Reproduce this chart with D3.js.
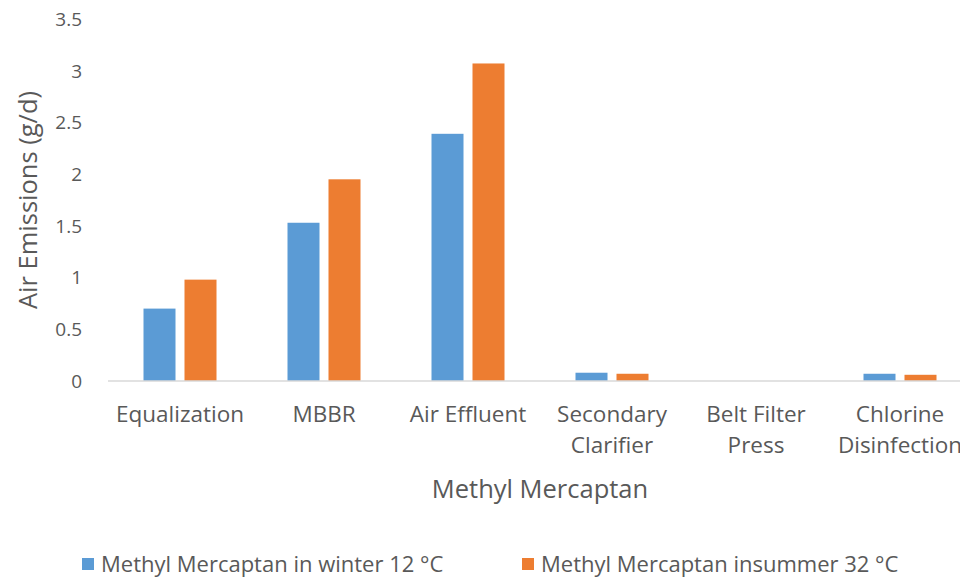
<!DOCTYPE html>
<html>
<head>
<meta charset="utf-8">
<script src="https://cdn.jsdelivr.net/npm/d3@7"></script>
<style>
  body { margin: 0; background: #fff; }
  text { font-family: "Open Sans", sans-serif; fill: #595959; }
</style>
</head>
<body>
<div id="chart"></div>
<script>
var categories = [["Equalization"], ["MBBR"], ["Air Effluent"], ["Secondary", "Clarifier"], ["Belt Filter", "Press"], ["Chlorine", "Disinfection"]];
var seriesNames = ["Methyl Mercaptan in winter 12 °C", "Methyl Mercaptan insummer 32 °C"];
var winter = [0.70, 1.53, 2.39, 0.08, 0, 0.07];
var summer = [0.98, 1.95, 3.07, 0.07, 0, 0.06];
var yTicks = [0, 0.5, 1, 1.5, 2, 2.5, 3, 3.5];
var colors = ["#5b9bd5", "#ed7d31"];

var width = 960, height = 578;
var svg = d3.select("#chart").append("svg")
  .attr("width", width)
  .attr("height", height);

var catKeys = categories.map(function(c) { return c.join(" "); });
var x0 = d3.scaleBand().domain(catKeys).range([108, 972]);
var x1 = d3.scaleBand().domain([0, 1]).range([35.5, 108.5]).paddingInner(9 / 41);
var y = d3.scaleLinear().domain([0, 3.5]).range([381, 19]);

// y tick labels
svg.append("g").selectAll("text")
  .data(yTicks)
  .enter().append("text")
  .attr("x", 82)
  .attr("y", function(d) { return y(d); })
  .attr("dy", "0.36em")
  .attr("text-anchor", "end")
  .style("font-size", "19px")
  .text(function(d) { return d; });

// bars
var rows = catKeys.map(function(k, i) { return { key: k, vals: [winter[i], summer[i]] }; });
var groups = svg.append("g").selectAll("g")
  .data(rows)
  .enter().append("g")
  .attr("transform", function(d) { return "translate(" + x0(d.key) + ",0)"; });

groups.selectAll("rect")
  .data(function(d) { return d.vals; })
  .enter().append("rect")
  .attr("x", function(d, i) { return x1(i); })
  .attr("width", x1.bandwidth())
  .attr("y", function(d) { return y(d); })
  .attr("height", function(d) { return y(0) - y(d); })
  .attr("fill", function(d, i) { return colors[i]; });

// baseline
svg.append("line")
  .attr("x1", 108).attr("x2", 972)
  .attr("y1", y(0)).attr("y2", y(0))
  .attr("stroke", "#d9d9d9")
  .attr("stroke-width", 1.5);

// category labels
var labels = svg.append("g").selectAll("text")
  .data(categories)
  .enter().append("text")
  .attr("text-anchor", "middle")
  .style("font-size", "22.5px")
  .attr("transform", function(d, i) { return "translate(" + (x0(catKeys[i]) + x0.bandwidth() / 2) + ",422)"; });
labels.selectAll("tspan")
  .data(function(d) { return d; })
  .enter().append("tspan")
  .attr("x", 0)
  .attr("y", function(d, i) { return i * 31; })
  .text(function(d) { return d; });

// axis titles
svg.append("text")
  .attr("x", 540).attr("y", 498)
  .attr("text-anchor", "middle")
  .style("font-size", "25.5px")
  .text("Methyl Mercaptan");

svg.append("text")
  .attr("transform", "translate(37,200) rotate(-90)")
  .attr("text-anchor", "middle")
  .style("font-size", "25.5px")
  .text("Air Emissions (g/d)");

// legend
var legendX = [82, 522];
var legend = svg.append("g").selectAll("g")
  .data(seriesNames)
  .enter().append("g")
  .attr("transform", function(d, i) { return "translate(" + legendX[i] + ",556)"; });
legend.append("rect")
  .attr("width", 12).attr("height", 12)
  .attr("y", 2)
  .attr("fill", function(d, i) { return colors[i]; });
legend.append("text")
  .attr("x", 19).attr("y", 16)
  .style("font-size", "22px")
  .text(function(d) { return d; });
</script>
</body>
</html>
